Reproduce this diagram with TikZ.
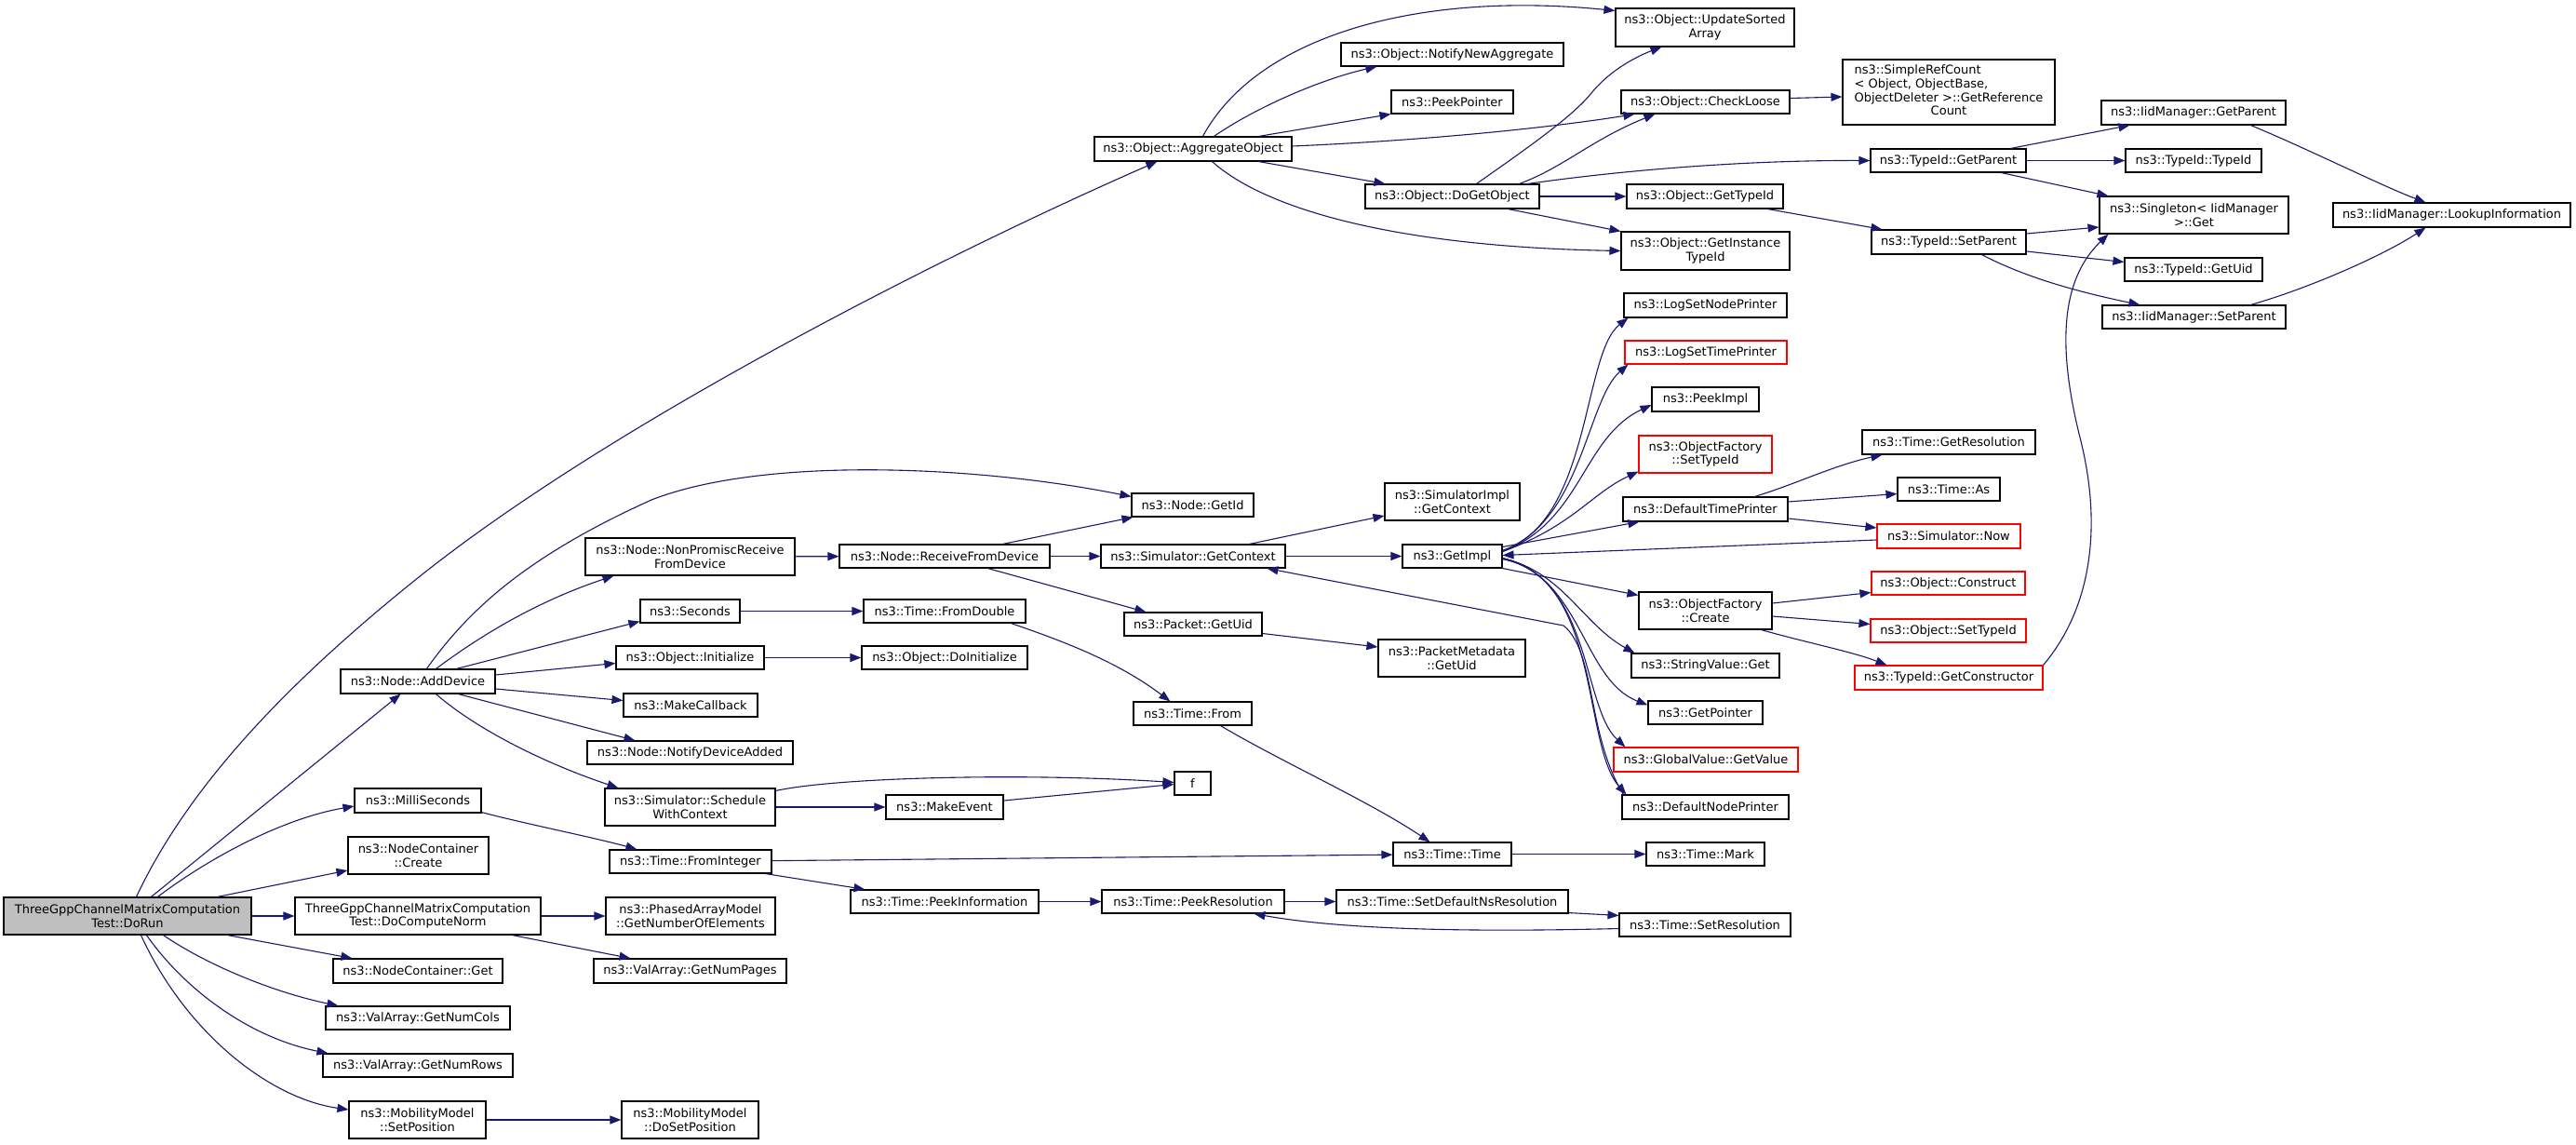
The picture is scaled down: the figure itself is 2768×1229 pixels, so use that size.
\documentclass[tikz,border=0pt]{standalone}
\usepackage{fontspec}
\setmainfont{DejaVu Sans}
\usetikzlibrary{arrows.meta}
\definecolor{edgec}{HTML}{191970}
\definecolor{rootfill}{HTML}{BFBFBF}
\tikzset{
 nbox/.style={draw=black, line width=1.1pt, fill=white, inner sep=0pt, align=center, font=\fontsize{13}{14.7}\selectfont},
 rbox/.style={nbox, draw=red},
 gbox/.style={nbox, fill=rootfill},
 conn/.style={draw=edgec, line width=1.1pt, -{Triangle[length=12pt,width=9pt]}},
}
\newcommand{\bx}[7][nbox]{\node[#1, minimum width={(#5-#3)*1pt}, minimum height={(#6-#4)*1pt}] (#2) at ({(#3+#5)/2},{(#4+#6)/2}) {#7};}
\begin{document}
\begin{tikzpicture}[x=1pt,y=-1pt]
\useasboundingbox[fill=white] (0,0) rectangle (2768,1229);
% nodes
\bx[gbox]{dorun}{4}{964}{270}{1004}{ThreeGppChannelMatrixComputation\\Test::DoRun}
\bx{adddev}{366}{719}{532}{745}{ns3::Node::AddDevice}
\bx{milli}{381}{847}{517}{873}{ns3::MilliSeconds}
\bx{nccreate}{374}{899}{525}{939}{ns3::NodeContainer\\::Create}
\bx{donorm}{317}{964}{581}{1004}{ThreeGppChannelMatrixComputation\\Test::DoComputeNorm}
\bx{ncget}{358}{1030}{540}{1056}{ns3::NodeContainer::Get}
\bx{numcols}{350}{1081}{548}{1106}{ns3::ValArray::GetNumCols}
\bx{numrows}{347}{1132}{551}{1157}{ns3::ValArray::GetNumRows}
\bx{setpos}{375}{1183}{522}{1223}{ns3::MobilityModel\\::SetPosition}
\bx{nonprom}{629}{578}{854}{618}{ns3::Node::NonPromiscReceive\\FromDevice}
\bx{recv}{902}{585}{1128}{610}{ns3::Node::ReceiveFromDevice}
\bx{seconds}{688}{644}{795}{669}{ns3::Seconds}
\bx{fromdbl}{928}{644}{1102}{669}{ns3::Time::FromDouble}
\bx{init}{662}{694}{821}{719}{ns3::Object::Initialize}
\bx{doinit}{926}{694}{1104}{719}{ns3::Object::DoInitialize}
\bx{mkcb}{670}{745}{814}{770}{ns3::MakeCallback}
\bx{notify}{631}{796}{852}{821}{ns3::Node::NotifyDeviceAdded}
\bx{getid}{1216}{530}{1347}{555}{ns3::Node::GetId}
\bx{simctx}{1183}{585}{1381}{610}{ns3::Simulator::GetContext}
\bx{pktuid}{1208}{658}{1356}{683}{ns3::Packet::GetUid}
\bx{tfrom}{1218}{754}{1345}{779}{ns3::Time::From}
\bx{sched}{650}{847}{833}{887}{ns3::Simulator::Schedule\\WithContext}
\bx{mkevent}{952}{854}{1078}{880}{ns3::MakeEvent}
\bx{f}{1262}{829}{1301}{854}{f}
\bx{fromint}{655}{913}{829}{938}{ns3::Time::FromInteger}
\bx{peekinfo}{914}{956}{1116}{981}{ns3::Time::PeekInformation}
\bx{peekres}{1184}{956}{1380}{981}{ns3::Time::PeekResolution}
\bx{phased}{651}{964}{833}{1004}{ns3::PhasedArrayModel\\::GetNumberOfElements}
\bx{numpages}{638}{1030}{845}{1056}{ns3::ValArray::GetNumPages}
\bx{dosetpos}{668}{1183}{815}{1223}{ns3::MobilityModel\\::DoSetPosition}
\bx{aggr}{1176}{147}{1388}{173}{ns3::Object::AggregateObject}
\bx{upd}{1736}{9}{1928}{50}{ns3::Object::UpdateSorted\\Array}
\bx{nna}{1441}{46}{1680}{71}{ns3::Object::NotifyNewAggregate}
\bx{peekptr}{1495}{97}{1626}{122}{ns3::PeekPointer}
\bx{chkloose}{1742}{97}{1923}{122}{ns3::Object::CheckLoose}
\bx{refcnt}{1980}{64}{2208}{134}{\begin{tabular}{@{}l@{}}ns3::SimpleRefCount\\< Object, ObjectBase,\\\multicolumn{1}{@{}c@{}}{ObjectDeleter >::GetReference}\\\multicolumn{1}{@{}c@{}}{Count}\end{tabular}}
\bx{dogetobj}{1467}{198}{1654}{224}{ns3::Object::DoGetObject}
\bx{ogettid}{1748}{198}{1916}{224}{ns3::Object::GetTypeId}
\bx{ginst}{1742}{249}{1923}{290}{ns3::Object::GetInstance\\TypeId}
\bx{lognode}{1745}{315}{1920}{341}{ns3::LogSetNodePrinter}
\bx[rbox]{logtime}{1746}{366}{1920}{391}{ns3::LogSetTimePrinter}
\bx{peekimpl}{1775}{416}{1890}{442}{ns3::PeekImpl}
\bx{simimpl}{1488}{519}{1633}{559}{ns3::SimulatorImpl\\::GetContext}
\bx{getimpl}{1507}{585}{1614}{610}{ns3::GetImpl}
\bx[rbox]{ofsettid}{1761}{468}{1904}{508}{ns3::ObjectFactory\\::SetTypeId}
\bx{deftime}{1744}{534}{1921}{560}{ns3::DefaultTimePrinter}
\bx{ofcreate}{1761}{636}{1904}{676}{ns3::ObjectFactory\\::Create}
\bx{strget}{1753}{702}{1912}{728}{ns3::StringValue::Get}
\bx{getptr}{1771}{753}{1894}{778}{ns3::GetPointer}
\bx[rbox]{gvget}{1734}{803}{1932}{829}{ns3::GlobalValue::GetValue}
\bx{pmeta}{1481}{687}{1639}{727}{ns3::PacketMetadata\\::GetUid}
\bx{defnode}{1743}{854}{1922}{880}{ns3::DefaultNodePrinter}
\bx{ttime}{1497}{905}{1624}{930}{ns3::Time::Time}
\bx{tmark}{1769}{905}{1896}{930}{ns3::Time::Mark}
\bx{setdefns}{1436}{956}{1685}{981}{ns3::Time::SetDefaultNsResolution}
\bx{setres}{1740}{981}{1924}{1006}{ns3::Time::SetResolution}
\bx{iidgetp}{2258}{108}{2456}{134}{ns3::IidManager::GetParent}
\bx{tgetp}{2010}{160}{2177}{185}{ns3::TypeId::GetParent}
\bx{ttid}{2284}{160}{2430}{185}{ns3::TypeId::TypeId}
\bx{single}{2256}{211}{2459}{251}{ns3::Singleton< IidManager\\>::Get}
\bx{lookup}{2507}{218}{2762}{244}{ns3::IidManager::LookupInformation}
\bx{tsetp}{2011}{247}{2177}{273}{ns3::TypeId::SetParent}
\bx{tgetuid}{2283}{277}{2431}{302}{ns3::TypeId::GetUid}
\bx{iidsetp}{2259}{328}{2456}{353}{ns3::IidManager::SetParent}
\bx{getres}{2001}{462}{2187}{488}{ns3::Time::GetResolution}
\bx{tas}{2039}{513}{2149}{538}{ns3::Time::As}
\bx[rbox]{simnow}{2017}{563}{2171}{589}{ns3::Simulator::Now}
\bx[rbox]{oconstr}{2011}{614}{2176}{639}{ns3::Object::Construct}
\bx[rbox]{osettid}{2010}{665}{2177}{690}{ns3::Object::SetTypeId}
\bx[rbox]{getctor}{1993}{715}{2195}{741}{ns3::TypeId::GetConstructor}
% edges
\draw[conn] ([xshift=143pt]dorun.north west) .. controls (200,850) and (300,740) .. (450,620) .. controls (650,460) and (1000,280) .. ([xshift=68pt]aggr.south west);
\draw[conn] ([xshift=159pt]dorun.north west) -- ([xshift=65pt]adddev.south west);
\draw[conn] ([xshift=166pt]dorun.north west) .. controls (220,925) and (300,880) .. ([yshift=-6pt]milli.west);
\draw[conn] ([xshift=230pt]dorun.north west) -- ([yshift=-16pt]nccreate.west);
\draw[conn] (dorun) -- (donorm);
\draw[conn] ([xshift=241pt]dorun.south west) -- ([xshift=21pt]ncget.north west);
\draw[conn] ([xshift=172pt]dorun.south west) .. controls (220,1035) and (290,1065) .. ([xshift=14pt]numcols.north west);
\draw[conn] ([xshift=154pt]dorun.south west) .. controls (200,1065) and (270,1115) .. ([xshift=6pt]numrows.north west);
\draw[conn] ([xshift=148pt]dorun.south west) .. controls (200,1110) and (290,1180) .. ([yshift=11pt]setpos.west);
\draw[conn] ([xshift=93pt]adddev.north west) .. controls (500,660) and (560,600) .. (700,537) .. controls (820,490) and (1050,500) .. ([yshift=-4pt]getid.north west);
\draw[conn] ([xshift=103pt]adddev.north west) .. controls (520,680) and (580,645) .. ([xshift=31pt]nonprom.south west);
\draw[conn] ([xshift=125pt]adddev.north west) -- ([yshift=2pt]seconds.south west);
\draw[conn] ([yshift=7pt]adddev.east) -- ([yshift=-6pt]init.west);
\draw[conn] ([yshift=-8pt]adddev.east) -- ([yshift=5pt]mkcb.west);
\draw[conn] ([xshift=127pt]adddev.south west) -- ([xshift=52pt]notify.north west);
\draw[conn] ([xshift=103pt]adddev.south west) .. controls (520,790) and (600,825) .. ([xshift=15pt]sched.north west);
\draw[conn] (nonprom) -- (recv);
\draw[conn] ([xshift=176pt]recv.north west) -- ([xshift=2pt]getid.south west);
\draw[conn] (recv) -- (simctx);
\draw[conn] ([xshift=160pt]recv.south west) -- ([xshift=24pt]pktuid.north west);
\draw[conn] (seconds) -- (fromdbl);
\draw[conn] ([xshift=159pt]fromdbl.south west) .. controls (1140,688) and (1200,710) .. ([xshift=40pt]tfrom.north west);
\draw[conn] ([xshift=94pt]tfrom.south west) .. controls (1380,820) and (1470,860) .. ([xshift=40pt]ttime.north west);
\draw[conn] (init) -- (doinit);
\draw[conn] ([yshift=-3pt]sched.north east) .. controls (900,835) and (1100,830) .. ([yshift=1pt]f.west);
\draw[conn] (sched) -- (mkevent);
\draw[conn] ([yshift=7pt]mkevent.east) -- ([yshift=-1pt]f.west);
\draw[conn] ([yshift=1pt]milli.south east) .. controls (560,884) and (640,900) .. ([xshift=30pt]fromint.north west);
\draw[conn] (fromint) -- (ttime);
\draw[conn] ([xshift=168pt]fromint.south west) -- ([xshift=16pt]peekinfo.north west);
\draw[conn] (peekinfo) -- (peekres);
\draw[conn] (peekres) -- (setdefns);
\draw[conn] ([yshift=1pt]setdefns.south east) -- ([yshift=-3pt]setres.north west);
\draw[conn] ([yshift=-4pt]setres.west) .. controls (1600,1001) and (1450,1000) .. ([xshift=164pt]peekres.south west);
\draw[conn] (ttime) -- (tmark);
\draw[conn] (donorm) -- (phased);
\draw[conn] ([xshift=234pt]donorm.south west) -- ([xshift=40pt]numpages.north west);
\draw[conn] (setpos) -- (dosetpos);
\draw[conn] ([xshift=117pt]aggr.north west) .. controls (1350,40) and (1520,-10) .. ([yshift=-3pt]upd.north west);
\draw[conn] ([xshift=129pt]aggr.north west) .. controls (1350,115) and (1420,85) .. ([xshift=39pt]nna.south west);
\draw[conn] ([xshift=177pt]aggr.north west) -- (peekptr.south west);
\draw[conn] ([yshift=3pt]aggr.east) .. controls (1550,150) and (1680,135) .. ([xshift=15pt]chkloose.south west);
\draw[conn] ([xshift=177pt]aggr.south west) -- ([xshift=22pt]dogetobj.north west);
\draw[conn] ([xshift=127pt]aggr.south west) .. controls (1360,225) and (1500,265) .. (ginst.west);
\draw[conn] ([xshift=120pt]dogetobj.north west) .. controls (1640,160) and (1690,125) .. (1710,100) .. controls (1730,75) and (1760,60) .. ([xshift=50pt]upd.south west);
\draw[conn] ([xshift=166pt]dogetobj.north west) .. controls (1680,180) and (1710,150) .. ([xshift=37pt]chkloose.south west);
\draw[conn] ([xshift=175pt]dogetobj.north west) .. controls (1750,182) and (1880,172) .. (tgetp.west);
\draw[conn] (dogetobj) -- (ogettid);
\draw[conn] ([xshift=154pt]dogetobj.south west) -- (ginst.north west);
\draw[conn] ([xshift=152pt]ogettid.south west) -- ([xshift=12pt]tsetp.north west);
\draw[conn] ([yshift=4pt]chkloose.east) -- ([yshift=-5pt]refcnt.west);
\draw[conn] ([xshift=151pt]tgetp.north west) -- ([xshift=31pt]iidgetp.south west);
\draw[conn] (tgetp) -- (ttid);
\draw[conn] ([xshift=141pt]tgetp.south west) -- ([xshift=10pt]single.north west);
\draw[conn] ([yshift=9pt]tsetp.east) -- ([yshift=-13pt]single.west);
\draw[conn] ([yshift=-10pt]tsetp.east) -- ([yshift=8pt]tgetuid.west);
\draw[conn] ([xshift=119pt]tsetp.south west) .. controls (2180,300) and (2240,315) .. ([xshift=41pt]iidsetp.north west);
\draw[conn] ([xshift=161pt]iidgetp.south west) .. controls (2480,160) and (2560,200) .. ([xshift=100pt]lookup.north west);
\draw[conn] ([xshift=160pt]iidsetp.north west) .. controls (2480,310) and (2560,275) .. ([xshift=100pt]lookup.south west);
\draw[conn] (getctor.north east) .. controls (2250,650) and (2258,560) .. (2235,470) .. controls (2210,370) and (2215,300) .. ([xshift=10pt]single.south west);
\draw[conn] (simctx) -- (getimpl);
\draw[conn] ([xshift=160pt]simctx.north west) -- ([yshift=-15pt]simimpl.west);
\draw[conn] ([yshift=6pt]getimpl.east) .. controls (1710,560) and (1700,380) .. ([xshift=5pt]lognode.south west);
\draw[conn] ([yshift=6pt]getimpl.east) .. controls (1700,560) and (1705,430) .. ([xshift=4pt]logtime.south west);
\draw[conn] ([yshift=5pt]getimpl.east) .. controls (1700,560) and (1700,470) .. ([yshift=-6pt]peekimpl.west);
\draw[conn] ([yshift=5pt]getimpl.east) .. controls (1690,565) and (1710,530) .. ([yshift=2pt]ofsettid.south west);
\draw[conn] ([yshift=10pt]getimpl.east) -- ([xshift=18pt]deftime.south west);
\draw[conn] (getimpl.south east) -- ([yshift=-4pt]ofcreate.north west);
\draw[conn] ([yshift=-2pt]getimpl.east) .. controls (1680,615) and (1700,670) .. ([xshift=4pt]strget.north west);
\draw[conn] ([yshift=-2pt]getimpl.east) .. controls (1700,620) and (1700,730) .. ([yshift=-5pt]getptr.north west);
\draw[conn] ([yshift=-3pt]getimpl.east) .. controls (1710,620) and (1700,760) .. ([xshift=13pt]gvget.north west);
\draw[conn] ([yshift=-3pt]getimpl.east) .. controls (1720,620) and (1700,800) .. ([xshift=5pt]defnode.north west);
\draw[conn] ([xshift=2pt]defnode.north west) .. controls (1705,790) and (1715,700) .. (1680,672) -- ([xshift=179pt]simctx.south west);
\draw[conn] ([yshift=-4pt]simnow.west) -- ([yshift=1pt]getimpl.east);
\draw[conn] ([xshift=142pt]deftime.north west) .. controls (1930,520) and (1970,500) .. ([xshift=22pt]getres.south west);
\draw[conn] ([yshift=8pt]deftime.east) -- ([yshift=-5pt]tas.west);
\draw[conn] ([yshift=-10pt]deftime.east) -- ([yshift=9pt]simnow.west);
\draw[conn] ([yshift=8pt]ofcreate.east) -- ([yshift=-10pt]oconstr.west);
\draw[conn] ([yshift=-6pt]ofcreate.east) -- ([yshift=7pt]osettid.west);
\draw[conn] ([xshift=132pt]ofcreate.south west) .. controls (1940,690) and (1990,700) .. ([xshift=35pt]getctor.north west);
\draw[conn] ([yshift=-10pt]pktuid.east) -- ([yshift=12pt]pmeta.west);
\end{tikzpicture}
\end{document}
